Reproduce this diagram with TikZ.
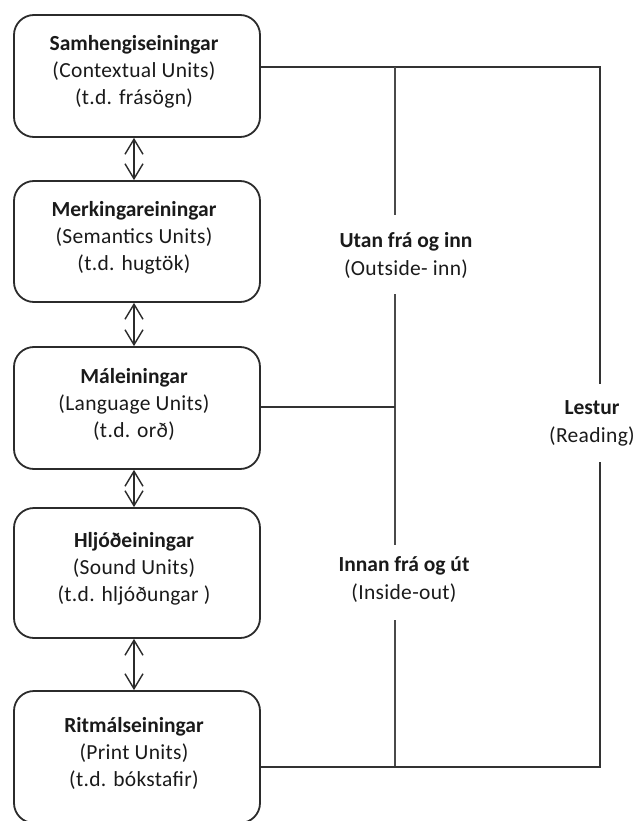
\documentclass[tikz,border=0pt]{standalone}
\usepackage{fontspec}
\setmainfont{Carlito}
\newfontfamily\regfont[LetterSpace=1.5]{Carlito}
\usetikzlibrary{arrows.meta}
\definecolor{boxline}{HTML}{2B2B2B}
\definecolor{conline}{HTML}{333333}
\definecolor{midline}{HTML}{4A4A4A}
\definecolor{txt}{HTML}{1A1A1A}
\newcommand{\ttl}[1]{{\normalfont\bfseries #1}}
\begin{document}
\begin{tikzpicture}[x=1pt,y=-1pt,
  unitbox/.style={draw=boxline, line width=1.8pt, rounded corners=20pt,
    minimum width=246pt, inner sep=0pt},
  boxtext/.style={text=txt, align=center, inner sep=0pt,
    font=\fontsize{21.5}{27}\regfont},
  sidetext/.style={text=txt, align=center, inner sep=0pt,
    font=\fontsize{21.5}{28}\regfont},
  conn/.style={draw=conline, line width=1.6pt},
  midconn/.style={draw=midline, line width=1.6pt},
  biarrow/.style={draw=boxline, line width=1.4pt,
    {Straight Barb[length=15pt,width=18pt]}-{Straight Barb[length=15pt,width=18pt]}}]
\useasboundingbox (0,0) rectangle (637,821);

% boxes
\node[unitbox, minimum height=122pt] (b1) at (137,76) {};
\node[unitbox, minimum height=121pt] (b2) at (137,241.5) {};
\node[unitbox, minimum height=122pt] (b3) at (137,408) {};
\node[unitbox, minimum height=130pt] (b4) at (137,573) {};
\node[unitbox, minimum height=132pt] (b5) at (137,757) {};

% box texts
\node[boxtext] (t1) at (134,72) {\ttl{Samhengiseiningar}\\(Contextual Units)\\(t.d. frásögn)};
\node[boxtext] (t2) at (134,237.5) {\ttl{Merkingareiningar}\\(Semantics Units)\\(t.d. hugtök)};
\node[boxtext] (t3) at (134,404) {\ttl{Máleiningar}\\(Language Units)\\(t.d. orð)};
\node[boxtext] (t4) at (134,569) {\ttl{Hljóðeiningar}\\(Sound Units)\\(t.d. hljóðungar )};
\node[boxtext] (t5) at (134,753) {\ttl{Ritmálseiningar}\\(Print Units)\\(t.d. bókstafir)};

% arrows between boxes
\foreach \a/\b in {b1/b2,b2/b3,b3/b4,b4/b5}
  \draw[biarrow] ([xshift=-3pt]\a.south) -- ([xshift=-3pt]\b.north);

% side labels
\node[sidetext] (outin) at (406,255) {\ttl{Utan frá og inn}\\(Outside- inn)};
\node[sidetext] (inout) at (404,580) {\ttl{Innan frá og út}\\(Inside-out)};
\node[sidetext] (read) at (592,423) {\ttl{Lestur}\\(Reading)};

% junction coordinates
\coordinate (m1) at (395,67);
\coordinate (r1) at (600,67);
\coordinate (m3) at (395,407);
\coordinate (m5) at (395,767);
\coordinate (r5) at (600,767);
\coordinate (mA) at (395,215);
\coordinate (mB) at (395,294);
\coordinate (mC) at (395,545);
\coordinate (mD) at (395,620);
\coordinate (rA) at (600,384);
\coordinate (rB) at (600,462);

% connectors
\draw[conn] (b1.east |- m1) -- (m1) -- (r1) -- (rA);
\draw[midconn] (m1) -- (mA);
\draw[midconn] (mB) -- (mC);
\draw[conn] (b3.east |- m3) -- (m3);
\draw[midconn] (mD) -- (m5);
\draw[conn] (b5.east |- m5) -- (m5) -- (r5) -- (rB);
\end{tikzpicture}
\end{document}
